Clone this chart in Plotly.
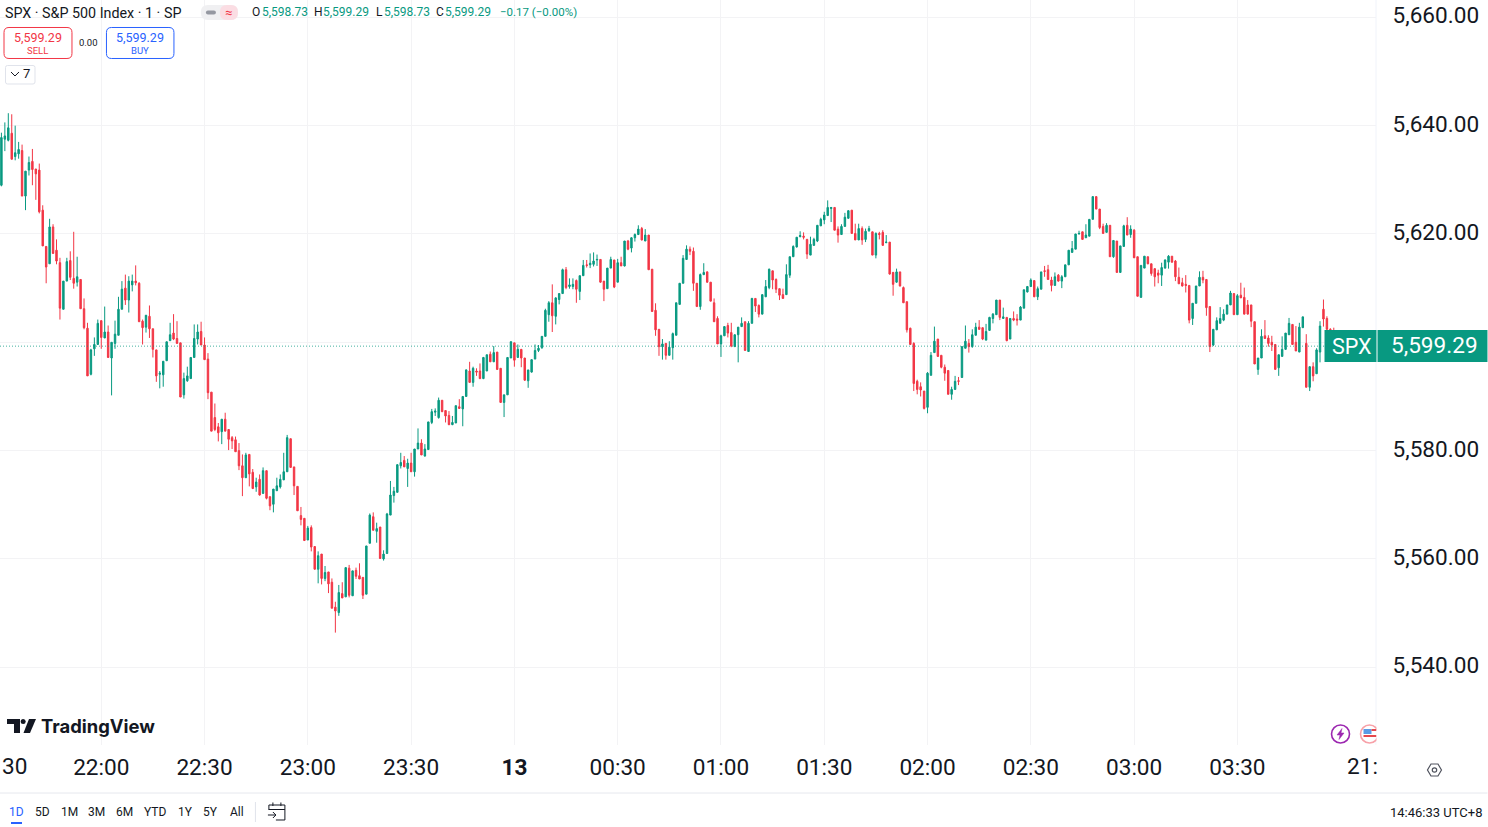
import plotly.graph_objects as go

PANE_W, PANE_H, W, H = 1376.5, 745.0, 1488, 827

opens = [
5629.0,5637.5,5637.3,5638.6,5634.3,5634.8,5635.4,5627.0,5631.8,5633.4,
5632.0,5631.8,5624.4,5617.7,5614.5,5621.3,5617.0,5614.7,5606.1,5611.3,
5615.1,5611.8,5611.1,5611.6,5606.2,5602.6,5594.1,5598.8,5599.6,5604.0,
5600.8,5601.9,5597.1,5599.8,5601.3,5606.1,5610.0,5607.8,5610.6,5611.3,
5610.9,5603.9,5602.8,5604.8,5602.5,5598.6,5594.1,5594.0,5596.6,5600.3,
5601.7,5600.7,5599.9,5590.3,5592.9,5593.3,5597.2,5600.6,5602.0,5599.5,
5596.9,5590.8,5586.1,5584.4,5583.5,5585.8,5583.9,5582.4,5582.0,5580.0,
5577.2,5575.0,5579.3,5576.0,5573.3,5574.7,5572.1,5576.3,5571.5,5570.1,
5572.6,5573.3,5574.6,5576.1,5582.2,5577.0,5573.4,5568.0,5567.5,5563.5,
5565.8,5562.3,5558.1,5560.9,5556.4,5557.6,5555.7,5551.1,5550.1,5553.6,
5553.0,5558.3,5553.2,5557.9,5556.9,5556.6,5553.5,5562.9,5567.8,5565.1,
5565.9,5560.0,5561.0,5568.1,5571.7,5572.3,5577.2,5578.2,5576.7,5577.7,
5576.1,5580.3,5581.4,5579.0,5580.2,5585.2,5587.1,5586.1,5589.3,5587.4,
5586.5,5584.8,5585.1,5588.1,5587.7,5590.0,5594.7,5592.6,5594.7,5594.7,
5593.3,5594.7,5597.8,5596.4,5598.2,5595.2,5588.9,5590.3,5597.1,5599.9,
5597.2,5598.7,5597.1,5592.9,5594.5,5596.9,5598.5,5599.0,5601.1,5605.1,
5607.3,5604.8,5607.9,5609.0,5613.4,5610.3,5610.3,5611.4,5609.4,5612.3,
5614.3,5614.3,5614.4,5615.2,5615.3,5611.3,5609.9,5613.7,5615.2,5611.1,
5614.7,5614.1,5618.7,5617.4,5619.3,5619.9,5621.0,5618.7,5619.8,5613.5,
5605.9,5602.4,5599.2,5599.8,5597.6,5599.0,5601.3,5607.0,5610.9,5615.3,
5617.2,5616.8,5610.9,5606.6,5612.5,5613.0,5611.1,5607.3,5604.4,5599.7,
5601.2,5603.1,5601.8,5599.2,5601.4,5602.9,5603.8,5598.3,5603.5,5608.1,
5606.8,5605.2,5608.4,5610.1,5613.2,5611.6,5609.9,5608.8,5608.8,5612.4,
5615.8,5617.6,5619.5,5619.6,5619.0,5616.1,5617.9,5618.7,5621.5,5622.6,
5623.4,5624.7,5624.9,5620.9,5619.9,5621.4,5622.9,5624.4,5620.1,5618.9,
5621.0,5619.0,5620.6,5620.4,5616.1,5620.1,5620.3,5618.4,5618.5,5612.9,
5611.1,5613.0,5610.1,5607.5,5602.6,5599.8,5592.8,5591.8,5591.0,5588.0,
5593.9,5598.1,5600.6,5597.6,5595.4,5594.8,5590.4,5591.3,5592.9,5593.5,
5598.9,5599.8,5599.2,5601.3,5602.8,5602.7,5600.4,5602.2,5604.4,5605.1,
5607.8,5604.4,5604.6,5600.6,5604.4,5604.3,5604.1,5606.3,5609.3,5610.3,
5611.4,5608.4,5609.8,5613.2,5613.4,5611.5,5610.5,5612.4,5611.3,5612.1,
5614.3,5616.6,5617.2,5620.0,5620.4,5619.3,5619.6,5622.7,5626.9,5624.6,
5621.4,5620.3,5621.6,5615.8,5618.7,5612.9,5617.7,5621.6,5619.9,5620.7,
5615.8,5608.3,5613.7,5615.8,5614.5,5613.6,5612.8,5612.4,5613.7,5614.8,
5615.9,5615.0,5612.0,5611.0,5610.7,5610.5,5604.4,5607.2,5610.4,5612.0,
5611.6,5606.6,5599.5,5602.3,5603.5,5604.1,5605.2,5606.9,5609.0,5605.1,
5608.7,5608.3,5606.9,5606.9,5603.8,5595.0,5597.1,5601.2,5600.8,5600.0,
5599.6,5595.3,5597.4,5598.7,5601.4,5603.3,5600.0,5598.2,5602.7,5599.8,
5591.7,5595.5,5594.2,5598.2,5606.1,5604.4,5602.4,5600.5,5598.73]

highs = [
5638.7,5640.6,5642.3,5642.1,5640.0,5637.0,5636.5,5631.6,5634.3,5635.7,
5632.0,5633.0,5625.3,5617.7,5622.8,5621.8,5619.0,5615.6,5611.3,5615.6,
5616.8,5620.4,5615.8,5611.6,5608.1,5603.6,5598.8,5600.9,5604.2,5604.0,
5606.6,5603.1,5600.0,5604.0,5608.4,5611.3,5612.5,5612.2,5612.5,5614.2,
5611.1,5604.2,5605.0,5606.8,5602.5,5598.6,5594.7,5596.5,5600.1,5603.6,
5605.2,5603.9,5599.9,5594.4,5595.5,5597.2,5603.3,5603.3,5603.8,5600.9,
5598.0,5590.8,5588.7,5585.1,5585.8,5587.0,5583.9,5582.7,5582.6,5581.4,
5579.3,5579.6,5579.3,5576.6,5575.0,5575.6,5576.9,5576.3,5571.5,5572.9,
5575.0,5575.6,5579.6,5582.9,5582.2,5577.0,5573.4,5569.6,5567.5,5566.1,
5566.2,5562.3,5561.4,5560.9,5558.7,5557.6,5556.4,5552.1,5555.2,5555.7,
5558.4,5558.9,5557.8,5558.4,5559.2,5556.6,5562.4,5568.4,5568.6,5566.7,
5565.9,5561.6,5568.5,5574.4,5573.3,5577.5,5579.6,5579.0,5578.5,5579.6,
5580.3,5584.1,5582.1,5581.2,5585.3,5587.7,5587.8,5589.8,5589.3,5587.4,
5587.3,5586.4,5588.3,5589.5,5590.0,5595.0,5596.4,5595.5,5595.2,5596.1,
5597.3,5597.7,5598.3,5599.3,5598.2,5595.2,5590.3,5597.2,5600.2,5599.9,
5599.6,5598.7,5597.1,5594.9,5596.8,5599.6,5599.5,5601.1,5606.2,5607.6,
5610.7,5608.3,5609.0,5613.6,5613.9,5611.8,5611.8,5611.6,5612.3,5615.2,
5615.2,5616.4,5616.6,5616.2,5615.3,5611.3,5613.7,5615.8,5615.2,5615.4,
5615.8,5618.7,5618.9,5619.4,5620.1,5621.6,5621.3,5620.9,5619.8,5613.5,
5607.2,5602.4,5600.6,5599.8,5600.2,5601.8,5607.3,5610.9,5616.1,5617.9,
5617.7,5617.5,5610.9,5612.7,5614.6,5613.1,5611.1,5608.1,5604.8,5601.4,
5603.0,5603.6,5603.6,5601.4,5602.8,5604.6,5603.8,5603.9,5608.2,5608.1,
5607.0,5608.8,5611.5,5613.6,5613.2,5611.8,5609.9,5609.9,5614.4,5615.8,
5617.9,5619.4,5620.5,5620.3,5619.1,5619.5,5619.3,5621.6,5623.0,5624.1,
5626.2,5624.9,5624.9,5621.4,5621.8,5623.9,5624.4,5624.4,5621.9,5621.9,
5621.4,5621.0,5621.5,5620.4,5620.3,5620.4,5620.7,5619.8,5618.5,5613.0,
5613.6,5613.0,5610.3,5607.5,5602.7,5600.0,5593.1,5592.6,5591.0,5594.5,
5598.2,5602.9,5600.6,5597.6,5595.9,5594.8,5591.8,5593.8,5593.6,5599.3,
5603.1,5600.6,5602.4,5603.6,5604.1,5602.7,5603.4,5604.7,5605.4,5607.8,
5607.8,5606.4,5604.6,5604.4,5605.7,5605.2,5606.7,5609.7,5610.4,5611.8,
5611.4,5610.3,5613.0,5614.1,5614.3,5612.1,5612.9,5612.6,5612.4,5614.3,
5617.0,5618.7,5620.0,5620.6,5620.4,5621.8,5622.7,5626.9,5626.9,5624.6,
5621.9,5622.0,5621.6,5618.8,5618.7,5617.8,5621.7,5623.1,5621.6,5620.9,
5615.8,5614.2,5615.9,5615.8,5614.5,5613.6,5613.4,5614.7,5615.3,5616.1,
5615.9,5615.2,5613.8,5611.9,5612.4,5610.5,5607.2,5610.4,5613.1,5613.2,
5611.6,5606.6,5602.4,5604.6,5606.5,5606.1,5606.9,5609.5,5609.0,5608.9,
5611.0,5610.1,5607.8,5606.9,5603.8,5597.1,5602.4,5604.1,5601.3,5601.2,
5599.6,5597.7,5601.1,5601.7,5604.5,5603.3,5603.0,5603.6,5604.7,5601.5,
5595.5,5596.3,5598.9,5603.9,5607.9,5604.8,5602.6,5602.7,5599.29]

lows = [
5628.8,5635.3,5637.1,5633.8,5633.6,5633.9,5627.0,5624.4,5630.8,5629.0,
5626.3,5623.8,5617.8,5610.9,5614.5,5616.4,5614.4,5604.2,5606.1,5611.3,
5611.5,5609.9,5610.3,5606.2,5602.4,5593.8,5593.9,5597.5,5599.6,5598.8,
5600.8,5597.2,5590.2,5598.8,5601.3,5606.1,5606.9,5605.5,5609.4,5610.5,
5603.8,5599.6,5601.8,5600.8,5597.2,5592.7,5591.5,5591.8,5596.6,5600.3,
5600.4,5599.8,5589.9,5589.6,5592.7,5593.3,5597.2,5599.6,5599.5,5596.8,
5589.5,5583.6,5583.6,5581.7,5581.2,5583.6,5580.1,5580.3,5579.8,5576.4,
5571.6,5575.0,5573.4,5572.9,5572.4,5571.7,5572.1,5571.0,5569.0,5568.6,
5572.6,5573.0,5574.6,5576.1,5576.9,5571.8,5568.9,5566.2,5563.4,5563.5,
5561.4,5558.1,5555.5,5555.3,5555.9,5553.7,5550.9,5546.4,5549.5,5552.8,
5553.0,5552.9,5553.2,5556.3,5556.3,5552.6,5553.5,5562.9,5565.3,5563.0,
5560.0,5559.7,5561.0,5568.1,5570.4,5572.3,5576.7,5577.0,5573.3,5576.1,
5575.2,5580.3,5579.2,5578.9,5580.2,5584.9,5586.4,5585.9,5587.1,5585.2,
5584.7,5584.7,5585.1,5587.7,5584.5,5590.0,5592.6,5591.8,5593.8,5593.2,
5593.2,5594.7,5596.4,5596.4,5594.9,5588.8,5586.2,5590.3,5597.1,5595.5,
5597.2,5595.4,5592.9,5591.6,5594.4,5596.9,5598.2,5598.8,5601.1,5603.8,
5601.9,5603.3,5607.0,5609.0,5609.8,5609.9,5609.8,5607.3,5607.8,5612.3,
5613.8,5613.7,5614.0,5614.1,5611.0,5607.6,5609.9,5613.7,5610.0,5611.1,
5614.1,5614.0,5617.0,5616.6,5618.6,5619.8,5618.8,5618.7,5613.4,5605.6,
5601.2,5597.5,5596.8,5596.8,5597.6,5596.8,5601.3,5607.0,5610.9,5615.2,
5616.1,5609.5,5606.6,5606.0,5612.4,5611.0,5607.6,5603.8,5599.7,5597.3,
5601.2,5600.9,5599.1,5599.2,5596.3,5602.9,5598.5,5598.3,5603.5,5605.6,
5604.6,5605.2,5608.4,5609.8,5609.8,5609.1,5607.8,5608.1,5608.8,5611.9,
5615.8,5617.5,5619.4,5619.0,5615.4,5616.1,5617.8,5618.5,5621.5,5621.8,
5623.4,5622.2,5620.7,5618.4,5619.9,5621.4,5622.8,5620.1,5618.9,5618.9,
5618.0,5618.5,5620.4,5616.1,5615.5,5619.0,5617.8,5618.3,5612.5,5608.6,
5611.0,5610.3,5607.3,5601.8,5599.6,5591.0,5590.4,5590.0,5587.6,5586.9,
5593.9,5598.1,5597.3,5595.2,5592.9,5590.4,5589.4,5591.3,5592.1,5593.5,
5598.9,5598.1,5599.0,5601.3,5602.3,5600.4,5600.4,5602.1,5603.5,5605.1,
5604.1,5604.4,5600.2,5600.6,5603.9,5603.1,5604.1,5606.3,5609.2,5610.2,
5608.4,5607.8,5609.8,5612.1,5611.6,5609.4,5610.5,5611.2,5610.0,5612.1,
5614.3,5616.6,5617.2,5619.9,5619.0,5619.3,5619.6,5622.7,5624.6,5620.9,
5620.1,5620.3,5615.8,5615.6,5612.9,5612.9,5617.7,5619.8,5619.3,5615.6,
5608.5,5608.2,5613.7,5614.4,5612.3,5610.3,5610.9,5610.4,5613.6,5613.6,
5614.7,5611.3,5610.8,5610.3,5609.2,5603.5,5603.2,5607.2,5610.4,5610.9,
5604.9,5598.2,5599.3,5602.3,5603.5,5603.9,5605.2,5606.9,5605.1,5605.1,
5608.2,5605.2,5605.2,5602.8,5596.0,5594.0,5597.1,5600.7,5599.2,5598.4,
5595.0,5593.8,5597.4,5598.6,5601.4,5599.6,5598.4,5598.2,5602.7,5591.7,
5591.0,5592.8,5594.2,5596.3,5602.9,5600.6,5600.0,5599.4,5598.73]

closes = [
5637.8,5638.1,5639.6,5633.8,5635.0,5635.6,5627.0,5631.6,5633.2,5631.9,
5631.1,5624.1,5617.8,5613.9,5621.3,5616.4,5615.0,5606.3,5611.3,5614.9,
5612.0,5610.9,5612.1,5606.2,5602.7,5593.8,5598.6,5599.6,5603.5,5600.9,
5601.9,5597.2,5600.0,5601.5,5606.1,5609.8,5607.8,5611.3,5611.3,5611.0,
5603.8,5602.7,5605.0,5602.5,5598.7,5593.8,5594.3,5596.5,5600.1,5601.4,
5600.6,5599.8,5589.9,5593.3,5593.8,5597.2,5600.7,5601.9,5599.5,5596.8,
5590.7,5583.6,5583.9,5583.3,5585.8,5583.6,5582.1,5581.8,5579.8,5577.2,
5575.0,5579.2,5575.7,5573.0,5574.2,5571.8,5576.3,5571.2,5569.8,5572.9,
5573.5,5574.7,5576.1,5582.4,5576.9,5573.5,5568.9,5567.3,5563.4,5565.7,
5562.2,5558.1,5560.6,5556.4,5557.5,5555.4,5550.9,5550.4,5553.8,5552.8,
5558.4,5553.3,5557.8,5556.8,5556.3,5553.3,5562.4,5568.1,5565.3,5565.6,
5560.1,5560.9,5568.3,5571.8,5572.5,5577.4,5577.8,5577.0,5577.7,5576.1,
5580.3,5581.4,5579.2,5580.3,5585.3,5587.2,5587.3,5589.3,5587.2,5586.4,
5584.8,5585.2,5588.3,5587.8,5590.0,5594.9,5592.6,5595.2,5594.5,5593.3,
5597.2,5597.7,5596.4,5598.1,5595.0,5588.9,5590.3,5597.2,5600.1,5596.7,
5598.7,5597.1,5593.0,5594.9,5596.8,5598.5,5598.9,5601.1,5605.9,5607.3,
5604.9,5608.2,5609.0,5613.4,5610.1,5610.6,5610.7,5609.8,5612.3,5614.2,
5614.2,5614.6,5615.0,5615.3,5611.1,5609.8,5613.7,5615.3,5610.2,5614.7,
5614.1,5618.7,5617.2,5619.3,5619.9,5620.9,5618.9,5619.8,5613.4,5605.7,
5602.3,5599.2,5599.7,5597.6,5599.1,5601.6,5607.3,5610.9,5615.5,5617.2,
5616.8,5610.9,5606.6,5612.5,5612.9,5611.1,5607.6,5603.8,5599.7,5601.2,
5602.9,5601.7,5599.3,5601.4,5602.8,5603.5,5598.5,5603.5,5608.1,5606.7,
5605.2,5608.8,5610.3,5613.5,5611.5,5609.8,5608.7,5608.1,5612.5,5615.8,
5617.7,5619.4,5619.7,5619.4,5616.3,5618.1,5619.0,5621.6,5622.7,5623.5,
5624.9,5624.9,5620.7,5619.8,5621.4,5623.1,5624.3,5620.1,5618.9,5621.0,
5618.9,5620.5,5621.0,5616.1,5620.1,5619.9,5617.9,5618.5,5612.6,5610.7,
5613.0,5610.4,5607.3,5602.3,5599.6,5592.4,5591.3,5591.2,5587.8,5594.3,
5597.6,5600.2,5597.4,5595.4,5594.3,5590.4,5591.3,5592.8,5592.8,5599.2,
5600.2,5599.2,5601.4,5602.8,5602.4,5600.6,5602.0,5604.6,5605.2,5607.8,
5604.6,5604.7,5600.3,5604.4,5604.1,5604.1,5606.5,5609.7,5610.3,5611.5,
5608.4,5609.9,5613.0,5613.1,5611.6,5610.5,5612.1,5611.3,5612.1,5614.3,
5617.0,5617.3,5620.0,5620.1,5619.0,5619.8,5622.7,5626.9,5624.6,5621.2,
5620.1,5621.6,5615.8,5618.8,5612.9,5617.8,5621.5,5619.8,5620.9,5615.6,
5608.5,5614.2,5615.9,5614.5,5612.7,5612.1,5612.4,5613.8,5615.2,5615.9,
5614.8,5612.1,5610.8,5610.4,5610.5,5604.1,5607.2,5610.4,5612.0,5611.5,
5606.4,5599.2,5602.4,5604.0,5604.4,5605.2,5606.9,5609.1,5605.1,5608.6,
5608.2,5605.2,5605.2,5603.9,5596.0,5597.1,5601.1,5600.7,5599.8,5599.5,
5595.0,5597.7,5598.7,5601.7,5603.5,5599.6,5598.4,5602.8,5604.7,5591.7,
5595.5,5593.8,5598.6,5603.0,5604.3,5602.4,5600.5,5599.5,5599.29]

minutes = list(range(1, len(closes) + 1))
tick_minutes = [30, 60, 90, 120, 150, 180, 210, 240, 270, 300, 330, 360]
tick_labels = ["22:00", "22:30", "23:00", "23:30", "<b>13</b>", "00:30", "01:00",
               "01:30", "02:00", "02:30", "03:00", "03:30"]
price_ticks = [5540, 5560, 5580, 5600, 5620, 5640, 5660]
price_labels = ["5,540.00", "5,560.00", "5,580.00", "", "5,620.00", "5,640.00", "5,660.00"]
range_labels = ["1D", "5D", "1M", "3M", "6M", "YTD", "1Y", "5Y", "All"]

GREEN, RED, BLUE, INK = "#089981", "#F23645", "#2962FF", "#131722"
FONT = "Roboto"
AXIS_SIZE = 22.6

def xp(px): return px / PANE_W
def yp(py): return 1 - py / PANE_H

shapes, notes = [], []

def rect(x0, y0, x1, y1, fill=None, line=None, lw=1):
    shapes.append(dict(type="rect", xref="paper", yref="paper", x0=xp(x0), x1=xp(x1), y0=yp(y0), y1=yp(y1),
                       fillcolor=fill or "rgba(0,0,0,0)", line=dict(color=line or "rgba(0,0,0,0)", width=lw if line else 0), layer="above"))

def seg(points, color, lw=1, fill=None, close=False):
    d = "M" + " L".join(f"{xp(a):.5f},{yp(b):.5f}" for a, b in points) + (" Z" if close else "")
    shapes.append(dict(type="path", xref="paper", yref="paper", path=d, layer="above",
                       fillcolor=fill or "rgba(0,0,0,0)", line=dict(color=color, width=lw)))

def rrect(x0, y0, x1, y1, r, color, fill="#ffffff", lw=1):
    X0, X1, Y0, Y1 = xp(x0), xp(x1), yp(y0), yp(y1)
    rx, ry = r / PANE_W, r / PANE_H
    d = (f"M{X0+rx:.5f},{Y0:.5f} L{X1-rx:.5f},{Y0:.5f} Q{X1:.5f},{Y0:.5f} {X1:.5f},{Y0-ry:.5f} "
         f"L{X1:.5f},{Y1+ry:.5f} Q{X1:.5f},{Y1:.5f} {X1-rx:.5f},{Y1:.5f} L{X0+rx:.5f},{Y1:.5f} "
         f"Q{X0:.5f},{Y1:.5f} {X0:.5f},{Y1+ry:.5f} L{X0:.5f},{Y0-ry:.5f} Q{X0:.5f},{Y0:.5f} {X0+rx:.5f},{Y0:.5f} Z")
    shapes.append(dict(type="path", xref="paper", yref="paper", path=d, layer="above", fillcolor=fill,
                       line=dict(color=color, width=lw)))

def circle(cx, cy, r, color, fill=None, lw=1.5):
    shapes.append(dict(type="circle", xref="paper", yref="paper", x0=xp(cx - r), x1=xp(cx + r), y0=yp(cy + r), y1=yp(cy - r),
                       fillcolor=fill or "rgba(0,0,0,0)", line=dict(color=color, width=lw), layer="above"))

def text(x, y, s, size=12, color=INK, anchor="left", font=FONT):
    notes.append(dict(xref="paper", yref="paper", x=xp(x), y=yp(y), text=s, showarrow=False, xanchor=anchor,
                      yanchor="middle", font=dict(family=font, size=size, color=color), borderpad=0, borderwidth=0))

# price line
shapes.append(dict(type="line", xref="paper", yref="y", x0=0, x1=1, y0=closes[-1], y1=closes[-1],
                   line=dict(color=GREEN, width=1, dash="1px,2px"), layer="above", opacity=0.75))
# pane edge, bottom rule
shapes.append(dict(type="line", xref="paper", yref="paper", x0=1, x1=1, y0=0, y1=1, line=dict(color="#f0f3fa", width=1)))
seg([(0, 793), (W, 793)], "#e6e8ee")

# header
text(5, 12.5, "SPX · S&amp;P 500 Index · 1 · SP", 14.3)
rrect(201, 5, 238, 20, 7, "#f0f0f2", "#f0f0f2", 0)
rrect(220, 5, 238, 20, 7, "#fbdde3", "#fbdde3", 0)
rrect(206, 10.5, 216, 14.5, 2, "#9598a1", "#9598a1", 0)
text(228.5, 12, "≈", 13, RED, "center")
for x0, label, x1, value in [(252, "O", 262, "5,598.73"), (314, "H", 323, "5,599.29"),
                             (376, "L", 384, "5,598.73"), (436, "C", 445, "5,599.29")]:
    text(x0, 12, label, 12)
    text(x1, 12, value, 12, GREEN)
text(500.5, 12, "−0.17 (−0.00%)", 11.5, GREEN)

rrect(4, 27.5, 72, 58.5, 5, RED)
text(38, 38, "5,599.29", 12.5, RED, "center")
text(38, 50.5, "SELL", 9.5, RED, "center")
text(89, 43, "0.00", 9.5, INK, "center")
rrect(106.5, 27.5, 174, 58.5, 5, BLUE)
text(140, 38, "5,599.29", 12.5, BLUE, "center")
text(140, 50.5, "BUY", 9.5, BLUE, "center")
rrect(5.5, 65.5, 35, 84, 2, "#e0e3eb")
seg([(11, 72), (15, 76), (19, 72)], INK, 1)
text(27, 74, "7", 13, INK, "center")

# logo
seg([(7, 719), (20, 719), (20, 733), (14, 733), (14, 724), (7, 724)], INK, 0, INK, True)
circle(23.2, 721.5, 2.5, INK, INK, 0)
seg([(29, 719), (36, 719), (30, 733), (23.5, 733)], INK, 0, INK, True)
text(41, 726, "<b>TradingView</b>", 18.4, INK, font="Inter")

# session icons
circle(1341, 734, 9, "#9C27B0", None, 1.6)
seg([(1342.5, 728.5), (1337.5, 735), (1340.5, 735), (1339.5, 739.5), (1344.5, 733), (1341.5, 733)], "#9C27B0", 0.5, "#9C27B0", True)
circle(1370, 734, 9, "#f7a1a8", None, 1.6)
circle(1370, 734, 6.3, "#ffffff", "#ffffff", 0)
rect(1364, 729, 1372, 734, "#5b9ce6")
rect(1372, 729, 1377, 731, "#e5484d")
rect(1364, 735, 1377, 737, "#e5484d")
rect(1377, 722, 1390, 746, "#ffffff")

# clipped first and last time labels
text(2, 767, "30", AXIS_SIZE)
text(1347.5, 767, "21:", AXIS_SIZE)

# gear
seg([(1431.5, 764), (1438.5, 764), (1442, 770), (1438.5, 776), (1431.5, 776), (1428, 770)], "#50535e", 1.2, None, True)
circle(1435, 770, 2.2, "#50535e", None, 1.2)

# price tag
rect(1325, 330, 1377, 362, GREEN)
rect(1378, 330, W, 362, GREEN)
text(1351.5, 346.5, "SPX", 21.5, "#ffffff", "center")
text(1479, 345, "5,599.29", AXIS_SIZE, "#ffffff", "right")

# bottom bar
for x, label in zip([16.5, 42.5, 69.5, 97, 124.5, 155, 185.5, 211, 237], range_labels):
    text(x, 812, label, 12, BLUE if label == "1D" else INK, "center")
rect(11, 822, 22, 824, BLUE)
seg([(255.5, 802), (255.5, 822)], "#e0e3eb")
seg([(269, 810), (269, 805), (285, 805), (285, 820), (276, 820)], INK, 1)
seg([(269, 809.5), (285, 809.5)], INK, 1)
seg([(273, 802.5), (273, 806)], INK, 1)
seg([(281, 802.5), (281, 806)], INK, 1)
seg([(268, 815), (276, 815)], INK, 1)
seg([(273, 812), (276, 815), (273, 818)], INK, 1)
text(1484, 812, "14:46:33 UTC+8", 13, INK, "right")

fig = go.Figure(go.Candlestick(
    x=minutes, open=opens, high=highs, low=lows, close=closes,
    increasing=dict(line=dict(color=GREEN, width=1), fillcolor=GREEN),
    decreasing=dict(line=dict(color=RED, width=1), fillcolor=RED),
    whiskerwidth=0, hoverinfo="skip", showlegend=False))

fig.update_layout(
    width=W, height=H, autosize=False, paper_bgcolor="#ffffff", plot_bgcolor="#ffffff",
    margin=dict(l=0, r=W - PANE_W, t=0, b=H - PANE_H, pad=0),
    boxgap=0.4, showlegend=False, shapes=shapes, annotations=notes, dragmode=False,
    font=dict(family=FONT, size=22, color=INK),
    xaxis=dict(range=[0.59, 400.26], rangeslider=dict(visible=False), tickmode="array",
               tickvals=tick_minutes, ticktext=tick_labels, showgrid=True, gridcolor="#f3f3f5", gridwidth=1,
               zeroline=False, showline=False, ticks="outside", ticklen=2, tickcolor="rgba(0,0,0,0)",
               tickfont=dict(family=FONT, size=AXIS_SIZE, color=INK), tickangle=0),
    yaxis=dict(range=[5525.65, 5663.2], side="right", tickmode="array", tickvals=price_ticks, ticktext=price_labels,
               showgrid=True, gridcolor="#f3f3f5", gridwidth=1, zeroline=False, showline=False,
               ticks="outside", ticklen=11, tickcolor="rgba(0,0,0,0)", ticklabelshift=-2,
               tickfont=dict(family=FONT, size=AXIS_SIZE, color=INK)),
)

fig.write_html("out.html", config={"displayModeBar": False, "staticPlot": True},
               post_script="document.body.style.margin='0';document.documentElement.style.overflow='hidden';")
